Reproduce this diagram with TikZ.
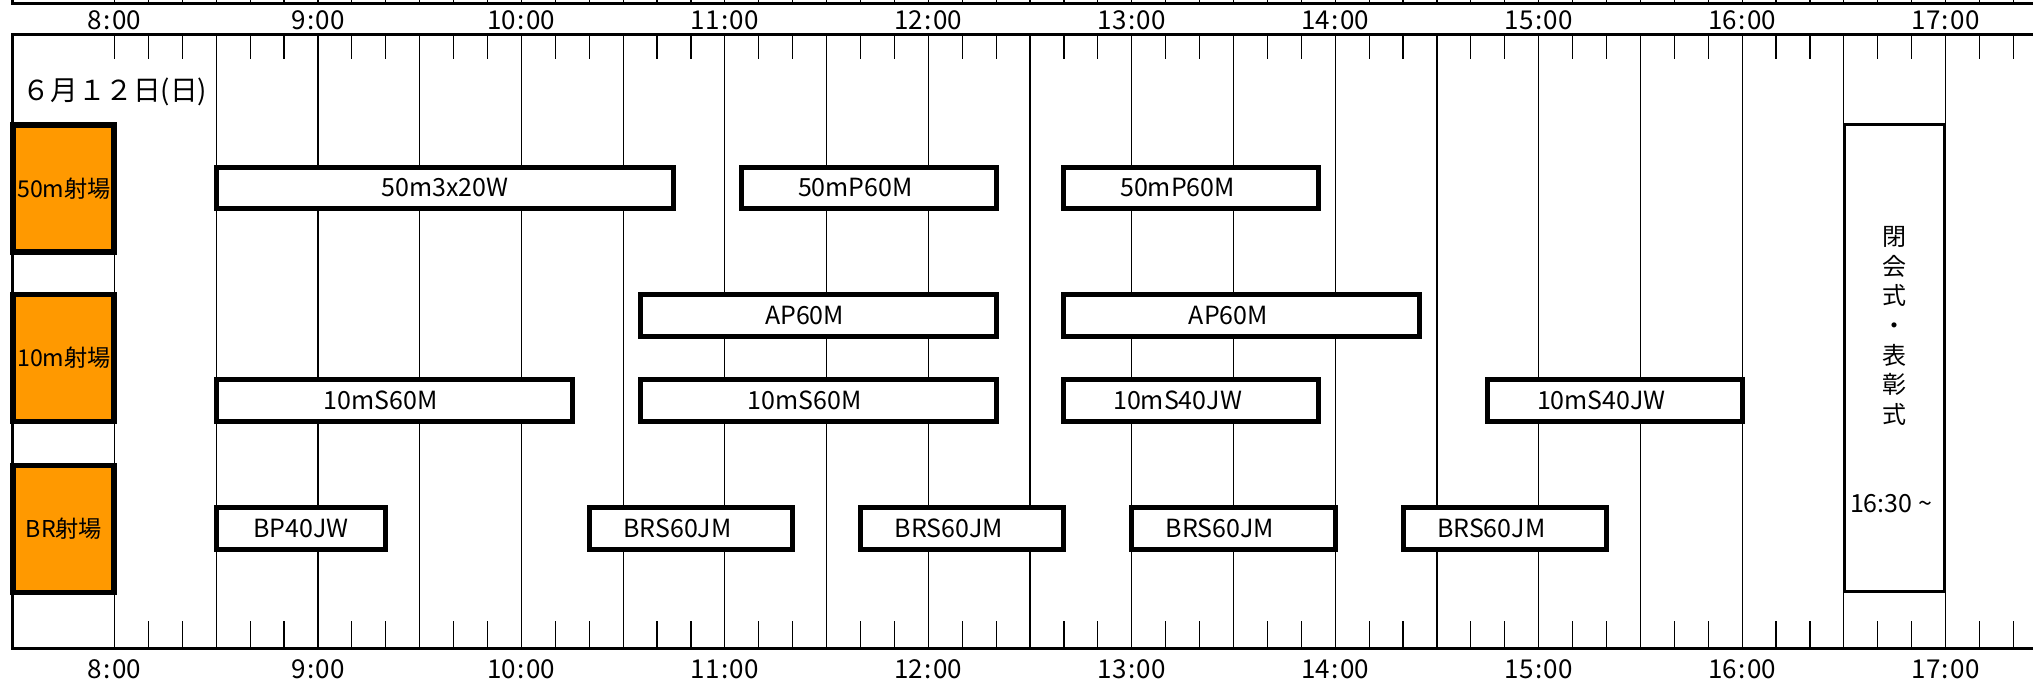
\documentclass[tikz,border=0pt]{standalone}
\usepackage{fontspec}
\setmainfont{Noto Sans CJK JP}
\usepackage{tikz}
\definecolor{rangeorange}{RGB}{255,153,0}

\begin{document}
\begin{tikzpicture}[x=0.5pt, y=-0.5pt,
    frame/.style={line width=1.5pt},
    grid/.style={line width=0.6pt},
    rangebox/.style={draw, line width=2.6pt, fill=rangeorange},
    evbox/.style={draw, line width=2.5pt, fill=white},
    timelabel/.style={font=\fontsize{13}{15}\selectfont, inner sep=0pt},
    evlabel/.style={font=\fontsize{12.5}{15}\selectfont, inner sep=0pt}]
\useasboundingbox (0,0) rectangle (2033,683);
\clip (0,0) rectangle (2033,683);
\foreach \i in {0,1,...,57}{
    \draw[grid] ({114.5+\i*33.908}, -10) -- ({114.5+\i*33.908}, 3.2);
}
\foreach \i in {0,1,...,18}{
    \draw[grid] ({114.5+\i*101.725}, 35) -- ({114.5+\i*101.725}, 648);
    \foreach \j in {1,2}{
        \draw[grid] ({114.5+\i*101.725+\j*33.908}, 35) -- ++(0, 24);
        \draw[grid] ({114.5+\i*101.725+\j*33.908}, 648) -- ++(0, -27);
    }
}
\fill[white] (14,59) rectangle (209,123);
\node[font=\fontsize{13.8}{16}\selectfont, inner sep=0pt] (date) at (115,92) {６月１２日(日)};
\draw[frame] (12,-10) -- (12,3.2) -- (2040,3.2);
\draw[frame] (2040,35) -- (12,35) -- (12,648) -- (2040,648);
\foreach \h in {8,...,17}{
    \node[timelabel] (top\h) at ({114.5+(\h-8)*203.45}, 20) {\h\kern.7pt:\kern.7pt00};
    \node[timelabel] (bot\h) at ({114.5+(\h-8)*203.45}, 669) {\h\kern.7pt:\kern.7pt00};
}
\foreach \y/\lbl [count=\i] in {125/50m射場, 294.7/10m射場, 465.6/BR射場}{
    \draw[rangebox] (13,\y) rectangle (114,{\y+127});
    \node[font=\fontsize{11.6}{14}\selectfont, inner sep=0pt] (range\i) at (64,{\y+63.5}) {\lbl};
}
\foreach \s/\e/\y/\dx/\lbl [count=\i] in {
    8.5/10.75/188/0/50m3x20W, 11.0833/12.3333/188/-13.5/50mP60M, 12.6667/13.9167/188/-13.5/50mP60M,
    10.5833/12.3333/315.5/-13.5/AP60M, 12.6667/14.4167/315.5/-13.5/AP60M,
    8.5/10.25/400.5/-13.5/10mS60M, 10.5833/12.3333/400.5/-13.5/10mS60M,
    12.6667/13.9167/400.5/-13.5/10mS40JW, 14.75/16/400.5/-13.5/10mS40JW,
    8.5/9.3333/528.5/0/BP40JW, 10.3333/11.3333/528.5/-13.5/BRS60JM, 11.6667/12.6667/528.5/-13.5/BRS60JM,
    13/14/528.5/-13.5/BRS60JM, 14.3333/15.3333/528.5/-13.5/BRS60JM
}{
    \draw[evbox] ({114.5+(\s-8)*203.45}, {\y-20.8}) rectangle ({114.5+(\e-8)*203.45}, {\y+20.8});
    \node[evlabel] (ev\i) at ({114.5+(\s+\e-16)*101.725+\dx}, \y) {\lbl};
}
\draw[line width=1.5pt, fill=white] (1844,124.5) rectangle (1944.5,591);
\node[align=center, font=\fontsize{12}{14.85}\selectfont, inner sep=0pt] (closing) at (1894,326) {閉\\会\\式\\・\\表\\彰\\式};
\node[evlabel] (closingtime) at (1891,504) {16:30 \textasciitilde};
\end{tikzpicture}
\end{document}
